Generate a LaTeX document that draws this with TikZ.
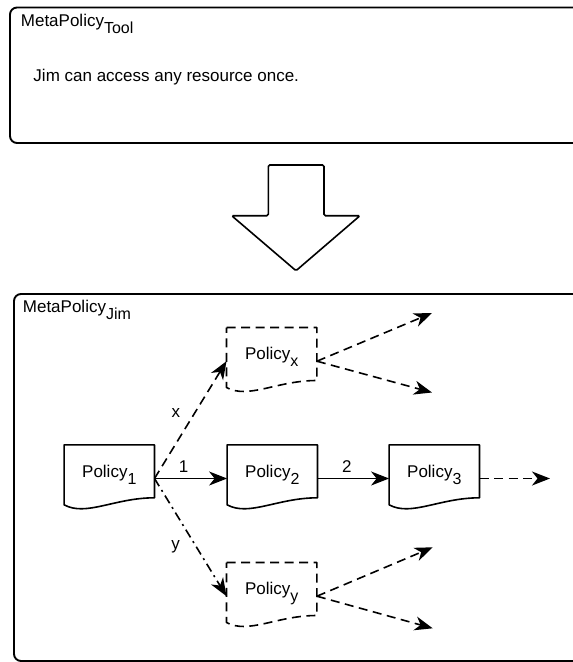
\documentclass[tikz,border=0pt]{standalone}
\usepackage{fontspec}
\setmainfont{Liberation Sans}
\usetikzlibrary{arrows.meta,calc}

% lowered index, as in Policy_1
\newcommand{\lowsub}[1]{\raisebox{-7pt}{\fontsize{16}{16}\selectfont #1}}

% outline of a document shape around a named node (wavy bottom edge)
\newcommand{\docoutline}[2][]{%
  \draw[docline,#1] (#2.north west) -- (#2.north east)
    -- ($(#2.north east)+(0,53)$)
    .. controls ($(#2.north east)+(-40,53)$) and ($(#2.north west)+(22,72)$)
    .. ($(#2.north west)+(0,60)$) -- cycle;}

\tikzset{
  panel/.style={draw, line width=1.9pt, rounded corners=7pt, inner sep=0pt},
  doc/.style={minimum width=90pt, minimum height=67pt, inner sep=0pt,
              text height=8pt, text depth=11pt},
  docline/.style={line width=1.6pt, line join=round},
  dashedline/.style={dash pattern=on 9pt off 5.5pt},
  tip/.style={-{Stealth[length=18pt,width=14pt,inset=5.5pt]}},
  flow/.style={tip, line width=1.6pt},
  dashflow/.style={flow, dashedline},
  dotflow/.style={flow, dash pattern=on 9pt off 4.5pt on 2pt off 4.5pt},
  lbl/.style={inner sep=0pt},
}

\begin{document}
\begin{tikzpicture}[x=1pt, y=-1pt, font=\fontsize{17}{20}\selectfont]
\useasboundingbox (0,0) rectangle (573,662);
\clip (0,0) rectangle (573,662);

% upper panel: the tool's meta-policy
\node[panel, minimum width=580pt, minimum height=135.5pt] (toolpanel) at (300,75.25) {};
\node[lbl, anchor=base west] (tooltitle) at (20.7,26) {MetaPolicy\lowsub{Tool}};
\node[lbl, anchor=base west] (rule) at (33.3,81.7) {Jim can access any resource once.};

% block arrow between the panels
\draw[line width=1.6pt, rounded corners=1.5pt]
  (268.3,165) -- (324,165) -- (324,215.7) -- (360,215.7) -- (296,270.7)
  -- (231.7,215.7) -- (268.3,215.7) -- cycle;

% lower panel: Jim's meta-policy
\node[panel, minimum width=576pt, minimum height=367pt] (jimpanel) at (302,477.5) {};
\node[lbl, anchor=base west] (jimtitle) at (22.7,312.3) {MetaPolicy\lowsub{Jim}};

% policies
\node[doc] (p1) at (109.3,478.5) {Policy\lowsub{1}};
\node[doc] (p2) at (272.3,478.5) {Policy\lowsub{2}};
\node[doc] (p3) at (434.3,478.5) {Policy\lowsub{3}};
\node[doc] (px) at (271.7,361.2) {Policy\lowsub{x}};
\node[doc] (py) at (271.7,596.2) {Policy\lowsub{y}};

\docoutline{p1}
\docoutline{p2}
\docoutline{p3}
\docoutline[dashedline]{px}
\docoutline[dashedline]{py}

% open ends
\coordinate (p3out) at (550,478.5);
\coordinate (pxup) at (432,313);
\coordinate (pxdown) at (432,392.5);
\coordinate (pyup) at (432.7,547.3);
\coordinate (pydown) at (432.7,628.3);

% transitions
\draw[flow] (p1.east) -- node[lbl, above=5.5pt, pos=0.4] (l1) {1} (p2.west);
\draw[flow] (p2.east) -- node[lbl, above=5.5pt, pos=0.41] (l2) {2} (p3.west);
\draw[dashflow] (p3.east) -- (p3out);
\draw[dashflow] (p1.east) -- node[lbl, left=14pt, pos=0.56] (lx) {x} (px.west);
\draw[dotflow] (p1.east) -- node[lbl, left=15.5pt, pos=0.58] (ly) {y} (py.west);
\draw[dashflow] (px.east) -- (pxup);
\draw[dashflow] (px.east) -- (pxdown);
\draw[dashflow] (py.east) -- (pyup);
\draw[dashflow] (py.east) -- (pydown);
\end{tikzpicture}
\end{document}
